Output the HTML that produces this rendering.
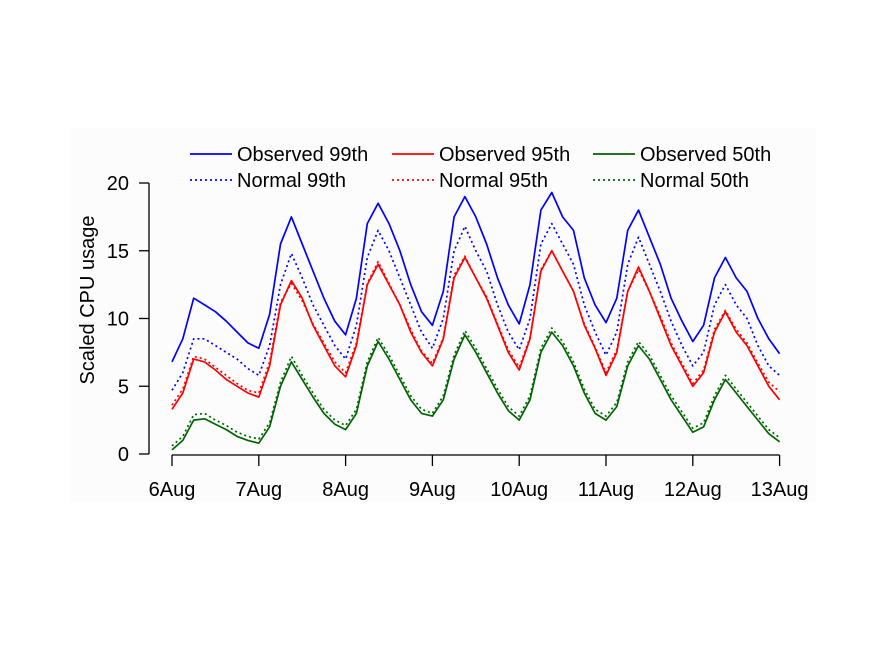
<!DOCTYPE html>
<html><head><meta charset="utf-8"><style>
body{margin:0;background:#fff;}
svg{display:block;font-family:"Liberation Sans",Arial,sans-serif;}
</style></head><body>
<svg id="chart" width="880" height="660" viewBox="0 0 880 660">
<rect x="70" y="128" width="746" height="374" fill="#fcfcfc"/>
<g id="plot"></g>
<g id="axes"></g>
<text x="94" y="300" font-size="20" text-anchor="middle" transform="rotate(-90 94 300)">Scaled CPU usage</text>
<g id="legend"></g>
</svg>
<script>
const xTickLabels = ["6Aug","7Aug","8Aug","9Aug","10Aug","11Aug","12Aug","13Aug"];
const yTicks = [0,5,10,15,20];
const obs99 = [6.8,8.5,11.5,11,10.5,9.8,9,8.2, 7.8,10.3,15.5,17.5,15.5,13.5,11.5,9.8, 8.8,11.5,17,18.5,17,15,12.5,10.5, 9.5,12,17.5,19,17.5,15.5,13,11, 9.6,12.5,18,19.3,17.5,16.5,13,11, 9.7,11.5,16.5,18,16,14,11.5,9.8, 8.3,9.5,13,14.5,13,12,10,8.5, 7.4];
const norm99 = [4.7,6,8.5,8.5,8,7.5,7,6.3, 5.8,8,12.5,14.8,13,11,9.5,8, 7,9.5,14.5,16.5,15,13,11,9, 7.8,10,15,16.8,15,13.5,11,9, 7.7,10,15.5,17,15.5,14,11,9, 7.3,9,14,16,14,12,9.8,8, 6.5,7.5,11,12.5,11,10,8,6.5, 5.8];
const obs95 = [3.3,4.5,7,6.8,6.2,5.5,5,4.5, 4.2,6.5,11,12.8,11.5,9.5,8,6.5, 5.7,8,12.5,14,12.5,11,9,7.5, 6.5,8.5,13,14.5,13,11.5,9.5,7.5, 6.2,8.5,13.5,15,13.5,12,9.5,7.8, 5.8,7.5,12,13.8,12,10,8,6.5, 5,6,9,10.5,9,8,6.5,5, 4];
const norm95 = [3.6,4.8,7.2,7,6.4,5.8,5.2,4.7, 4.5,6.8,11.2,12.6,11.3,9.6,8.2,6.8, 6,8.2,12.6,14.2,12.6,11,9.2,7.6, 6.7,8.6,13.2,14.6,13,11.6,9.6,7.7, 6.4,8.6,13.6,15,13.5,12,9.6,7.9, 6,7.7,12,13.6,12,10.2,8.2,6.7, 5.2,6.2,9.2,10.6,9.2,8.2,6.7,5.3, 4.6];
const obs50 = [0.3,1,2.5,2.6,2.2,1.8,1.3,1, 0.8,2,5,6.8,5.5,4.2,3,2.2, 1.8,3,6.5,8.3,7,5.5,4,3, 2.8,4,7,8.8,7.5,6,4.5,3.2, 2.5,4,7.5,9,8,6.5,4.5,3, 2.5,3.5,6.5,8,7,5.5,4,2.8, 1.6,2,4,5.5,4.5,3.5,2.5,1.5, 0.9];
const norm50 = [0.6,1.3,2.9,3,2.5,2.1,1.6,1.3, 1.1,2.3,5.3,7.2,5.8,4.5,3.3,2.5, 2.1,3.3,6.8,8.6,7.3,5.8,4.3,3.3, 3,4.3,7.3,9.1,7.8,6.3,4.8,3.5, 2.8,4.3,7.8,9.3,8.3,6.8,4.8,3.3, 2.8,3.8,6.8,8.3,7.3,5.8,4.3,3.1, 1.9,2.3,4.3,5.8,4.8,3.8,2.8,1.8, 1.2];
const seriesNames = ["Observed 99th","Observed 95th","Observed 50th","Normal 99th","Normal 95th","Normal 50th"];
const NS="http://www.w3.org/2000/svg";
const x0=172, dayW=86.8, y0=454, yUnit=13.55;
const xScale = d => x0 + d*dayW;
const yScale = v => y0 - v*yUnit;
const stepsPerDay = 8;
function mk(tag, attrs, parent){const e=document.createElementNS(NS,tag);for(const k in attrs)e.setAttribute(k,attrs[k]);parent.appendChild(e);return e;}
const plot=document.getElementById('plot'), axes=document.getElementById('axes'), legend=document.getElementById('legend');
const defs=[[norm99,'#0000ff',true,'normal-99th-line'],[norm95,'#ff0000',true,'normal-95th-line'],[norm50,'#006400',true,'normal-50th-line'],
[obs99,'#0000ff',false,'observed-99th-line'],[obs95,'#ff0000',false,'observed-95th-line'],[obs50,'#006400',false,'observed-50th-line']];
defs.forEach(([arr,col,dot,name])=>{
  const pts=arr.map((v,i)=>xScale(i/stepsPerDay).toFixed(1)+','+yScale(v).toFixed(1)).join(' ');
  const p=mk('polyline',{points:pts,fill:'none',stroke:col,'stroke-width':1.7,'stroke-linejoin':'round'},plot);
  if(dot)p.setAttribute('stroke-dasharray','2,3');
  
  
});
const ya=mk('line',{x1:149,x2:149,y1:yScale(20),y2:yScale(0),stroke:'#000','stroke-width':1.3},axes);


yTicks.forEach(t=>{
  const l=mk('line',{x1:139,x2:149,y1:yScale(t),y2:yScale(t),stroke:'#000','stroke-width':1.3},axes);
  
  
  const tx=mk('text',{x:129,y:yScale(t)+7,'font-size':20,'text-anchor':'end'},axes);tx.textContent=t;
  
  
});
const xa=mk('line',{x1:xScale(0),x2:xScale(7),y1:455,y2:455,stroke:'#000','stroke-width':1.3},axes);


xTickLabels.forEach((lab,i)=>{
  const l=mk('line',{x1:xScale(i),x2:xScale(i),y1:455,y2:466,stroke:'#000','stroke-width':1.3},axes);
  
  
  const tx=mk('text',{x:xScale(i),y:496,'font-size':20,'text-anchor':'middle'},axes);tx.textContent=lab;
  
  
});
const legCols=[190,392,593], legCol=['#0000ff','#ff0000','#006400'];
seriesNames.forEach((n,i)=>{
  const c=i%3, r=Math.floor(i/3), y=r?180:154;
  const l=mk('line',{x1:legCols[c],x2:legCols[c]+42,y1:y,y2:y,stroke:legCol[c],'stroke-width':1.7},legend);
  if(r)l.setAttribute('stroke-dasharray','2,3');
  
  
  const tx=mk('text',{x:legCols[c]+47,y:y+7,'font-size':20},legend);tx.textContent=n;
  
  
});
</script>
</body></html>
